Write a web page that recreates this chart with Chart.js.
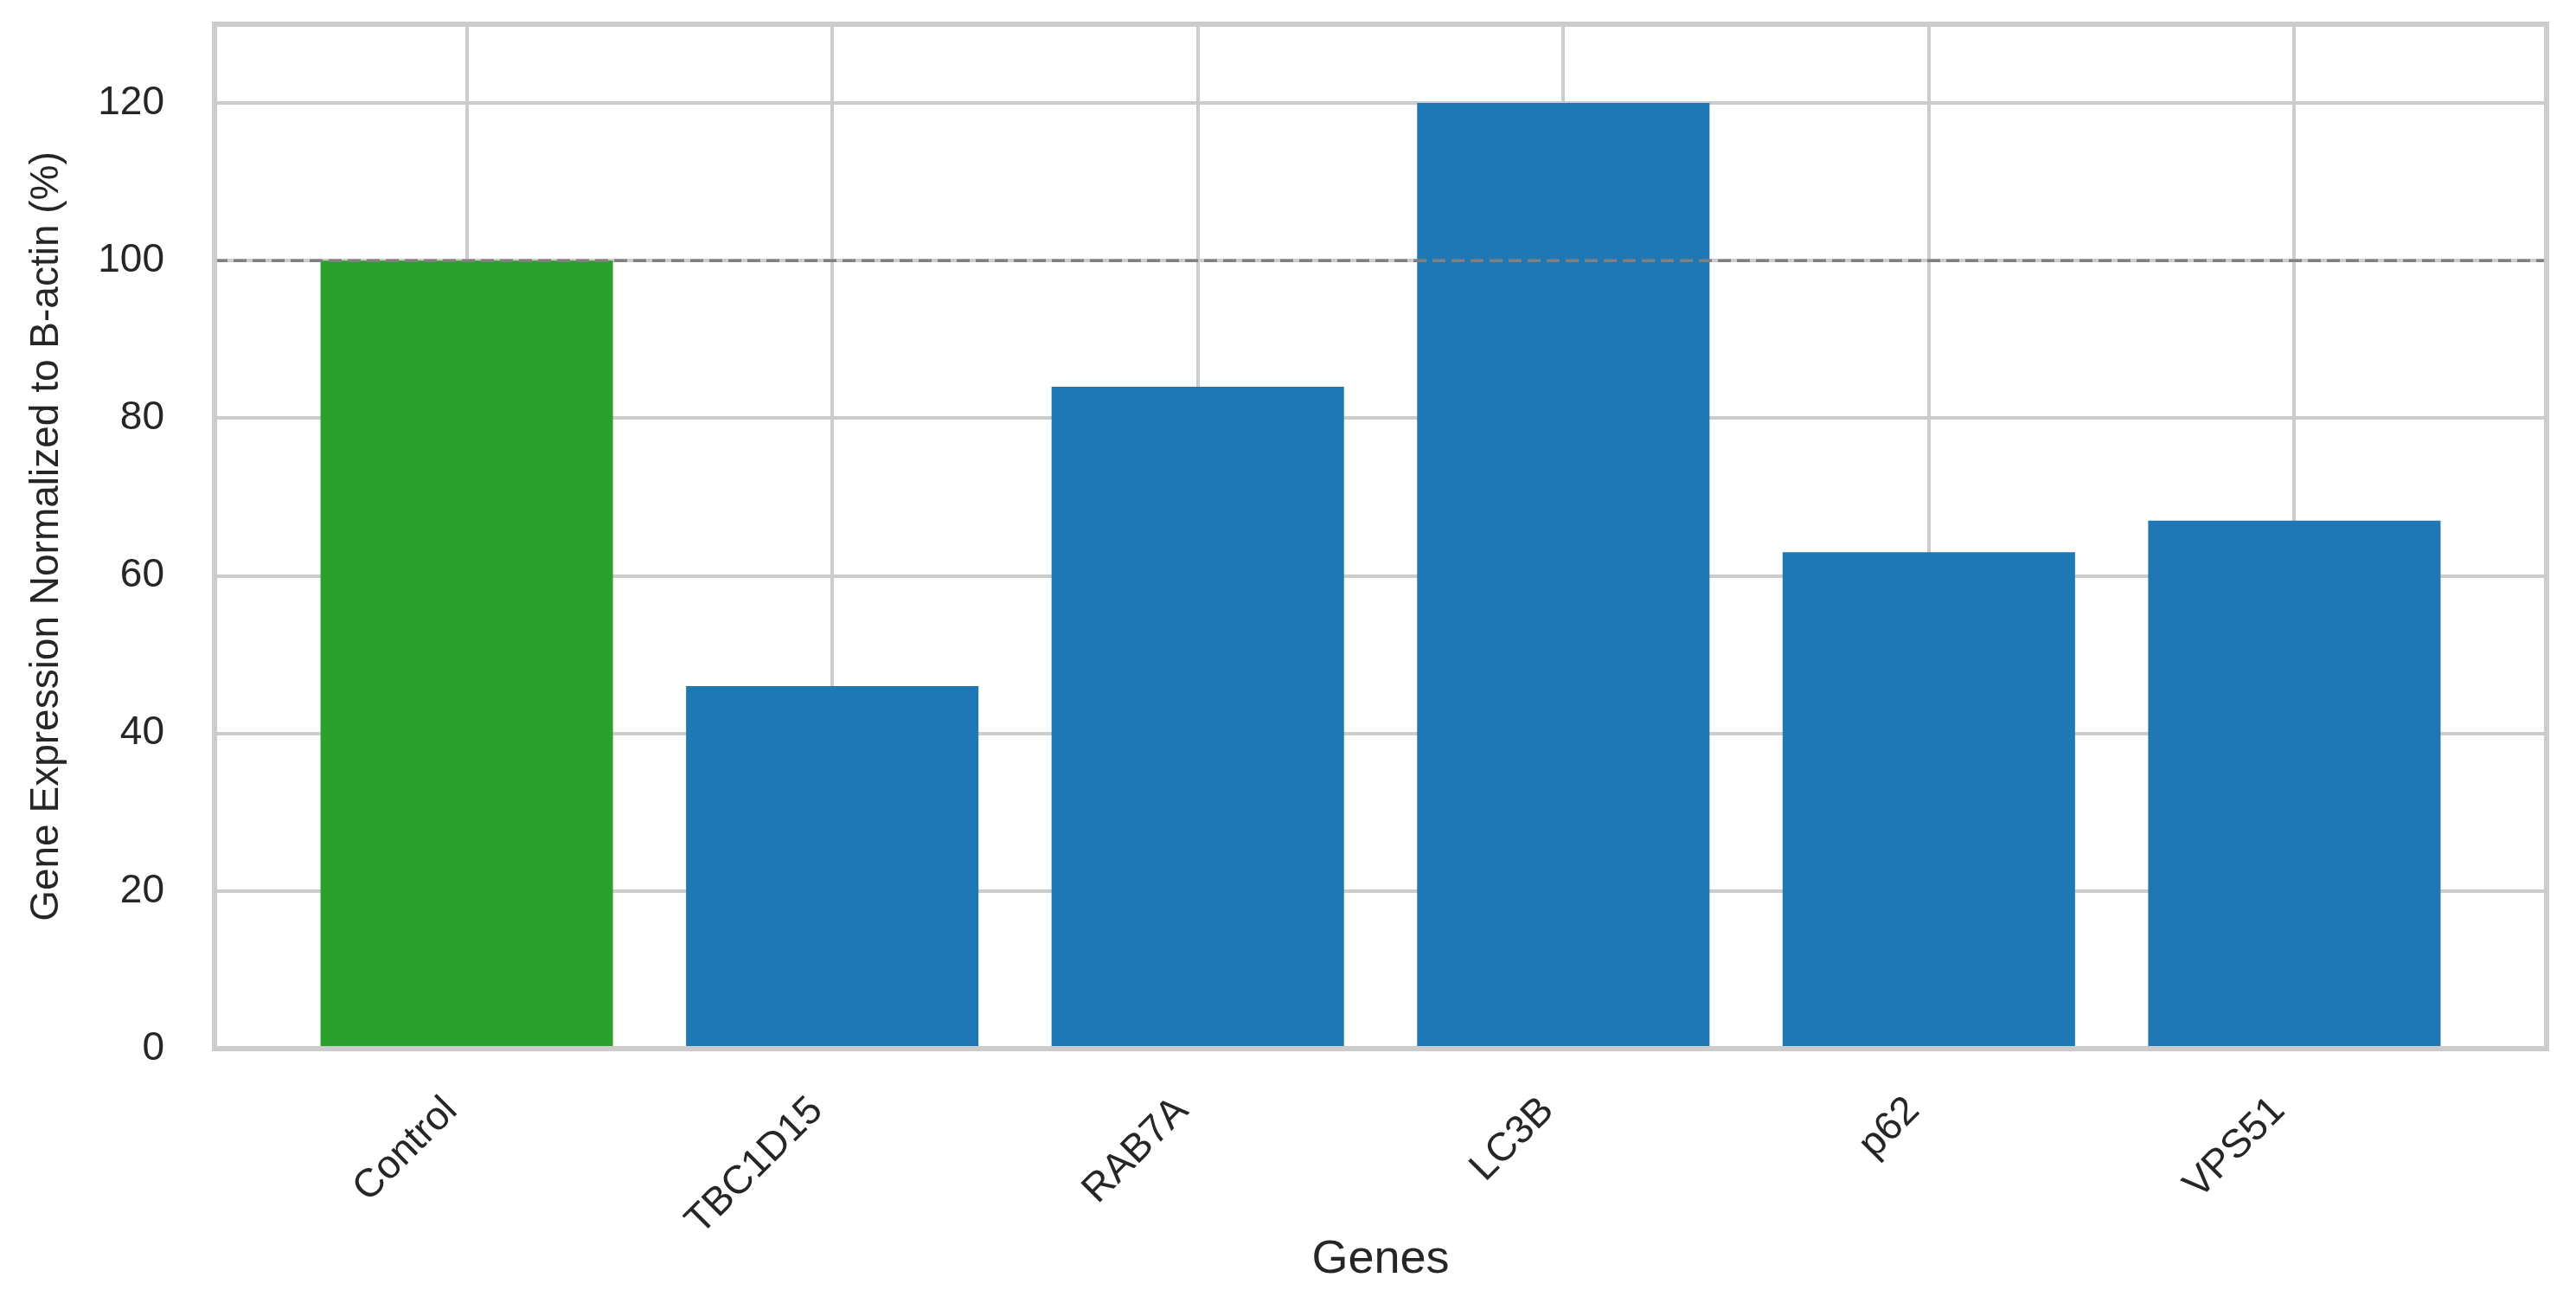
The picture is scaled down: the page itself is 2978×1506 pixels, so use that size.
<!DOCTYPE html>
<html lang="en">
<head>
<meta charset="UTF-8">
<title>Gene Expression Normalized to B-actin</title>
<script src="https://cdn.jsdelivr.net/npm/chart.js"></script>
<style>
    html, body { margin: 0; padding: 0; background: #fff; }
    canvas { display: block; }
</style>
</head>
<body>
<canvas id="geneChart" width="2978" height="1506"></canvas>
<script>
    // values
    const genes = ["Control", "TBC1D15", "RAB7A", "LC3B", "p62", "VPS51"];
    const expression = [100, 46, 84, 120, 63, 67];
    const yTicks = [0, 20, 40, 60, 80, 100, 120];
    const referenceLevel = 100;
    const yMax = 130;
    const xMin = -0.69, xMax = 5.69;

    const textColor = "#262626";
    const gridColor = "#cccccc";
    const font = "'Liberation Sans', Arial, sans-serif";

    // box around the plot area, like the matplotlib spines
    const frame = {
        id: "frame",
        afterDatasetsDraw(chart) {
            const a = chart.chartArea, ctx = chart.ctx;
            ctx.save();
            ctx.strokeStyle = gridColor;
            ctx.lineWidth = 6;
            ctx.strokeRect(a.left, a.top, a.right - a.left, a.bottom - a.top);
            ctx.restore();
        }
    };

    new Chart(document.getElementById("geneChart"), {
        type: "bar",
        data: {
            datasets: [
                {
                    type: "line",
                    data: [{ x: xMin, y: referenceLevel }, { x: xMax, y: referenceLevel }],
                    borderColor: "#808080",
                    borderWidth: 3.5,
                    borderDash: [15, 7],
                    pointRadius: 0,
                    order: 0
                },
                {
                    data: expression.map((v, i) => ({ x: i, y: v })),
                    backgroundColor: genes.map(g => g === "Control" ? "#2ca02c" : "#1f77b4"),
                    barPercentage: 0.8,
                    categoryPercentage: 1,
                    order: 1
                }
            ]
        },
        options: {
            responsive: false,
            animation: false,
            layout: { padding: { left: 10, right: 34, top: 28, bottom: 10 } },
            plugins: { legend: { display: false }, tooltip: { enabled: false } },
            scales: {
                x: {
                    type: "linear",
                    min: xMin,
                    max: xMax,
                    offset: false,
                    grid: { color: gridColor, lineWidth: 4, drawTicks: false, offset: false },
                    border: { display: false },
                    afterBuildTicks: s => { s.ticks = genes.map((g, i) => ({ value: i })); },
                    afterFit: s => {
                        s.height = 1506 - 10 - 1212;
                        s.paddingLeft = 0;
                        s.paddingRight = 0;
                    },
                    ticks: {
                        autoSkip: false,
                        minRotation: 45,
                        maxRotation: 45,
                        padding: 45,
                        labelOffset: -18,
                        color: textColor,
                        font: { family: font, size: 46 },
                        callback: v => genes[v]
                    },
                    title: {
                        display: true,
                        text: "Genes",
                        color: textColor,
                        font: { family: font, size: 54 },
                        padding: { top: 0, bottom: 7 }
                    }
                },
                y: {
                    min: 0,
                    max: yMax,
                    grid: { color: gridColor, lineWidth: 4, drawTicks: false },
                    border: { display: false },
                    afterBuildTicks: s => { s.ticks = yTicks.map(v => ({ value: v })); },
                    afterFit: s => {
                        s.width = 248 - 10;
                        s.paddingTop = 0;
                        s.paddingBottom = 0;
                    },
                    ticks: {
                        padding: 58,
                        color: textColor,
                        font: { family: font, size: 46 }
                    },
                    title: {
                        display: true,
                        text: "Gene Expression Normalized to B-actin (%)",
                        color: textColor,
                        font: { family: font, size: 46 },
                        padding: { top: 17, bottom: 0 }
                    }
                }
            }
        },
        plugins: [frame]
    });
</script>
</body>
</html>
